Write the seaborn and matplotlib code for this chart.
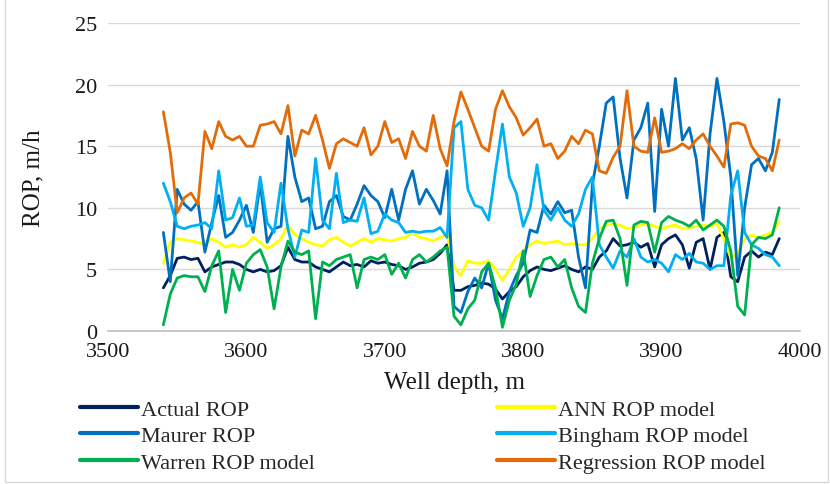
import matplotlib
matplotlib.use("Agg")
import matplotlib.pyplot as plt
import pandas as pd
import seaborn as sns
from matplotlib.lines import Line2D

# well depth grid, m
depth = list(range(3540, 3990, 5))

actual = [3.5, 4.5, 5.9, 6.0, 5.8, 5.9, 4.8, 5.2, 5.4, 5.6,
          5.6, 5.4, 5.0, 4.8, 5.0, 4.8, 4.9, 5.3, 6.8, 5.8,
          5.6, 5.6, 5.2, 5.0, 4.8, 5.2, 5.6, 5.3, 5.4, 5.2,
          5.7, 5.5, 5.6, 5.4, 5.3, 5.0, 5.2, 5.5, 5.6, 5.8,
          6.3, 7.0, 3.3, 3.3, 3.6, 3.7, 3.9, 3.8, 3.4, 2.6,
          3.2, 3.6, 4.4, 4.9, 5.2, 5.0, 4.9, 5.1, 5.3, 5.0,
          4.8, 5.2, 5.0, 6.0, 6.5, 7.5, 6.9, 7.0, 7.2, 6.8,
          7.1, 5.2, 7.0, 7.5, 7.8, 7.0, 5.1, 7.2, 7.5, 5.0,
          7.6, 8.0, 4.4, 4.0, 6.0, 6.5, 6.0, 6.4, 6.2, 7.5]

ann = [5.5, 7.2, 7.5, 7.4, 7.3, 7.2, 7.0, 7.5, 7.2, 6.8,
       7.0, 6.8, 7.0, 7.6, 7.2, 6.7, 7.0, 7.5, 8.6, 7.8,
       7.5, 7.2, 7.0, 6.9, 7.4, 7.6, 7.2, 6.9, 7.2, 7.5,
       7.2, 7.5, 7.4, 7.3, 7.5, 7.6, 8.0, 7.6, 7.5, 7.3,
       7.6, 7.8, 5.2, 4.5, 5.7, 5.5, 5.5, 5.7, 5.0, 4.1,
       5.0, 6.0, 6.5, 7.0, 7.3, 7.1, 7.2, 7.3, 7.0, 7.1,
       7.0, 7.0, 7.5, 8.3, 8.6, 8.7, 8.6, 8.3, 8.4, 8.6,
       8.7, 8.5, 8.3, 8.5, 8.6, 8.3, 8.4, 8.5, 8.6, 8.5,
       8.7, 7.5, 5.9, 6.3, 7.5, 7.8, 7.6, 7.8, 8.0, 8.9]

maurer = [8.0, 4.0, 11.5, 10.3, 9.8, 10.5, 6.4, 8.8, 11.0, 7.6,
          8.0, 9.0, 10.2, 8.0, 12.0, 7.2, 8.3, 8.5, 15.8, 12.5,
          10.5, 10.8, 8.3, 8.5, 10.5, 11.0, 9.3, 9.0, 10.3, 11.8,
          11.0, 10.5, 9.2, 11.5, 9.0, 11.5, 13.0, 10.3, 11.5, 10.6,
          9.5, 13.0, 2.0, 1.5, 3.2, 4.3, 3.5, 5.5, 2.5, 1.0,
          3.2, 4.5, 5.5, 8.2, 8.0, 10.2, 9.5, 10.5, 9.6, 9.8,
          6.0, 3.5, 11.9, 15.0, 18.5, 19.0, 14.0, 10.8, 15.5, 16.5,
          18.5, 9.7, 18.0, 15.0, 20.5, 15.5, 16.5, 14.0, 9.0, 16.0,
          20.5, 17.0, 12.5, 4.5, 10.0, 13.5, 14.0, 13.0, 14.5, 18.8]

bingham = [12.0, 10.5, 8.5, 8.3, 8.5, 8.6, 8.8, 8.3, 13.0, 9.0,
           9.2, 10.8, 8.5, 8.6, 12.5, 8.8, 8.0, 12.0, 8.3, 6.0,
           8.2, 8.0, 14.0, 9.0, 8.3, 12.8, 8.8, 9.0, 8.9, 10.8,
           7.9, 8.1, 9.5, 9.0, 8.8, 8.0, 8.1, 8.0, 8.1, 8.1,
           8.4, 7.6, 16.5, 17.0, 11.5, 10.2, 10.0, 9.0, 13.0, 16.8,
           12.5, 11.2, 8.5, 10.0, 13.5, 9.8, 9.0, 10.0, 9.0, 8.5,
           9.5, 11.5, 12.5, 7.0, 6.0, 5.1, 6.5, 6.0, 7.5, 6.0,
           5.6, 5.8, 5.5, 4.8, 6.2, 5.8, 6.3, 5.6, 5.5, 5.0,
           5.3, 5.3, 11.0, 13.0, 8.0, 7.0, 6.7, 6.2, 6.0, 5.3]

warren = [0.5, 3.0, 4.3, 4.5, 4.4, 4.4, 3.2, 5.3, 6.5, 1.5,
          5.0, 3.3, 5.5, 6.2, 6.6, 5.2, 1.8, 5.2, 7.3, 6.4,
          6.2, 6.5, 1.0, 5.6, 5.3, 5.8, 6.0, 6.2, 3.5, 5.8,
          6.0, 5.8, 6.2, 4.6, 5.5, 4.3, 5.8, 6.2, 5.6, 6.0,
          6.5, 6.8, 1.2, 0.5, 1.8, 2.5, 4.8, 5.5, 3.5, 0.3,
          2.5, 3.8, 6.5, 2.8, 4.5, 5.8, 6.0, 5.2, 5.8, 3.5,
          2.0, 1.5, 5.5, 7.5, 8.9, 9.0, 7.5, 3.7, 8.6, 8.9,
          8.8, 6.4, 8.8, 9.3, 9.0, 8.8, 8.5, 9.0, 8.2, 8.6,
          9.0, 8.5, 6.5, 2.0, 1.3, 7.0, 7.6, 7.5, 7.8, 10.0]

regression = [17.8, 14.5, 9.6, 10.8, 11.2, 10.3, 16.2, 14.8, 17.0, 15.8,
              15.5, 15.8, 15.0, 15.0, 16.7, 16.8, 17.0, 16.0, 18.3, 14.2,
              16.3, 16.0, 17.5, 15.5, 13.2, 15.2, 15.6, 15.3, 15.0, 16.5,
              14.3, 15.0, 17.0, 15.3, 15.6, 14.0, 16.2, 15.0, 14.6, 17.5,
              14.8, 13.4, 17.0, 19.4, 18.0, 16.5, 15.0, 14.6, 18.0, 19.5,
              18.2, 17.3, 15.9, 16.5, 17.2, 15.0, 15.2, 14.0, 14.6, 15.8,
              15.2, 16.3, 16.0, 13.0, 12.8, 14.1, 15.0, 19.5, 15.0, 14.6,
              14.5, 17.3, 14.5, 14.6, 14.8, 15.2, 14.8, 15.5, 16.0, 15.0,
              14.2, 13.3, 16.8, 16.9, 16.7, 15.0, 14.2, 14.0, 13.0, 15.5]

names = ["Actual ROP", "ANN ROP model", "Maurer ROP",
         "Bingham ROP model", "Warren ROP model", "Regression ROP model"]
values = [actual, ann, maurer, bingham, warren, regression]
colors = ["#002060", "#FFFF00", "#0070C0", "#00B0F0", "#00B050", "#E36C0A"]

df = pd.concat([pd.DataFrame({"depth": depth, "rop": v, "series": n})
                for n, v in zip(names, values)], ignore_index=True)

sns.set_theme(style="white")
plt.rcParams["font.family"] = ["Liberation Serif", "DejaVu Serif"]

fig = plt.figure(figsize=(8.3, 4.85), dpi=100)
ax = fig.add_axes([108 / 830, 1 - 332 / 485, 692 / 830, 308 / 485])

sns.lineplot(data=df, x="depth", y="rop", hue="series", hue_order=names,
             palette=dict(zip(names, colors)), linewidth=2.0,
             estimator=None, sort=False, legend=False, ax=ax)

ax.set_xlim(3500, 4000)
ax.set_ylim(0, 25)
ax.set_xticks(range(3500, 4001, 100))
ax.set_yticks(range(0, 26, 5))
ax.grid(axis="y", color="#D9D9D9", linewidth=1)
ax.grid(axis="x", visible=False)
for s in ["left", "right", "top"]:
    ax.spines[s].set_visible(False)
ax.spines["bottom"].set_color("#BFBFBF")
ax.tick_params(axis="both", length=0, labelsize=16, pad=8, colors="#1a1a1a")

ax.set_xlabel("Well depth, m", fontsize=18, color="#1a1a1a")
ax.set_ylabel("ROP, m/h", fontsize=18, color="#1a1a1a")
ax.xaxis.set_label_coords(0.5, -0.13)
ax.yaxis.set_label_coords(-0.092, 0.5)

# legend: excel fills rows first, matplotlib fills columns
order = [0, 2, 4, 1, 3, 5]
handles = [Line2D([], [], color=colors[i], linewidth=3) for i in order]
labels = [names[i] for i in order]
fig.legend(handles, labels, loc="upper left", ncol=2, mode="expand",
           bbox_to_anchor=(80 / 830, 0.0, 686 / 830, 1 - 400 / 485),
           frameon=False, fontsize=16, handlelength=2.6, handletextpad=0.15,
           labelspacing=0.27, borderpad=0, borderaxespad=0)

# light chart border
for xs, ys in [([0.006, 0.006], [0.004, 1]), ([0.006, 0.998], [0.004, 0.004]),
               ([0.998, 0.998], [0.004, 1])]:
    fig.add_artist(Line2D(xs, ys, transform=fig.transFigure, color="#D9D9D9", linewidth=1))

fig.savefig("out.png", dpi=100)
